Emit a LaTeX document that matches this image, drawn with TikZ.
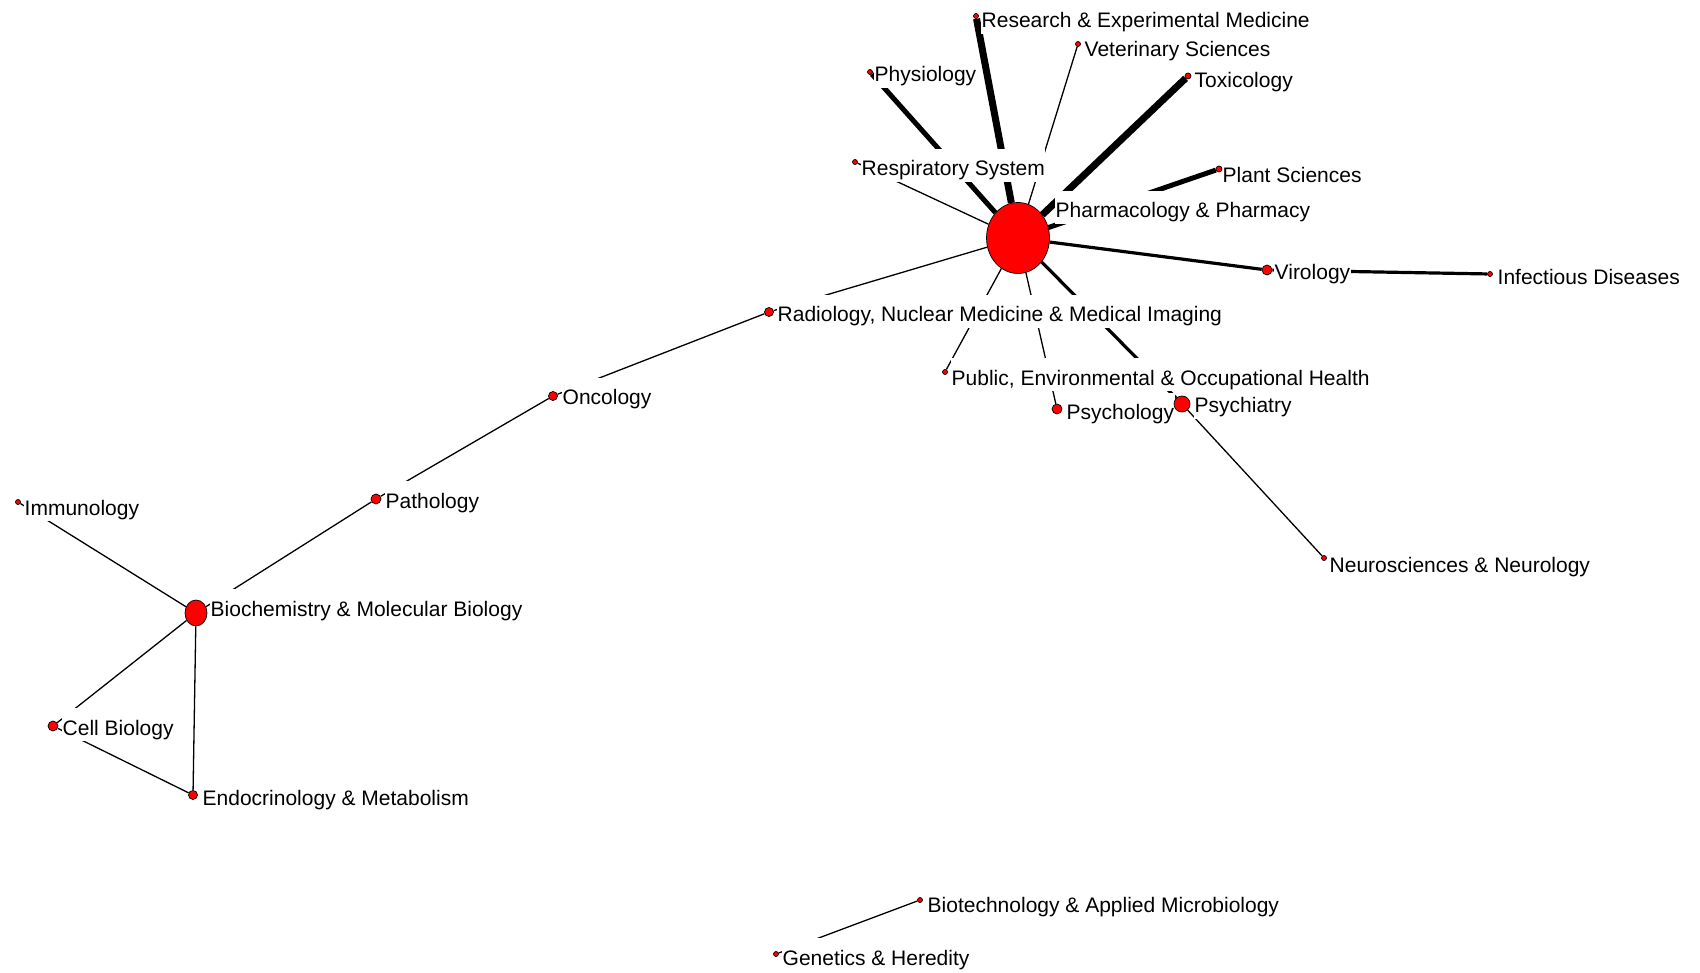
\documentclass[tikz,border=0pt]{standalone}
\usepackage{fontspec}
\setmainfont{Liberation Sans}
\usetikzlibrary{shapes.geometric}
\pgfdeclarelayer{edges}
\pgfdeclarelayer{labels}
\pgfsetlayers{edges,labels,main}
\tikzset{
  vtx/.style={draw=black, fill=red, line width=0.7pt, inner sep=0pt},
  dot/.style={vtx, circle, minimum size=5pt},
  mid/.style={vtx, circle, minimum size=10pt},
  big/.style={vtx, ellipse, minimum width=22pt, minimum height=26pt},
  hub/.style={vtx, ellipse, minimum width=63pt, minimum height=71pt},
  wire/.style={draw=black, line width=1.3pt},
  wirem/.style={draw=black, line width=3.2pt},
  wireh/.style={draw=black, line width=5pt},
  wirex/.style={draw=black, line width=7pt},
  lab/.style={fill=white, anchor=base west, inner xsep=0.5pt, inner ysep=0pt,
    text height=27pt, text depth=6pt, font=\fontsize{21}{25}\selectfont},
}
\begin{document}
\begin{tikzpicture}[x=1pt,y=-1pt]
  \useasboundingbox (0,0) rectangle (1700,973);
  % vertices
  \node[hub] (pharm) at (1018,238) {};
  \node[dot] (resmed) at (976,16) {};
  \node[dot] (vet) at (1078,44) {};
  \node[dot] (physio) at (870,72) {};
  \node[dot,minimum size=6pt] (tox) at (1188,76) {};
  \node[dot] (resp) at (855,162) {};
  \node[dot,minimum size=6pt] (plant) at (1219,169) {};
  \node[mid] (viro) at (1267,270) {};
  \node[dot] (infect) at (1490,274) {};
  \node[mid,minimum size=9pt] (radio) at (769,312) {};
  \node[dot] (public) at (945,372) {};
  \node[mid] (psychol) at (1057,409) {};
  \node[vtx,circle,minimum size=16pt] (psychia) at (1182,404) {};
  \node[dot] (neuro) at (1324,558) {};
  \node[mid,minimum size=9pt] (onco) at (553,396) {};
  \node[mid] (patho) at (376,499) {};
  \node[dot] (immuno) at (18,502) {};
  \node[big] (biochem) at (196,613) {};
  \node[mid] (cell) at (53,726) {};
  \node[mid,minimum size=9pt] (endo) at (193,795) {};
  \node[dot] (biotech) at (920,900) {};
  \node[dot] (genet) at (776,954) {};
  % labels, lowest first
  \begin{pgfonlayer}{labels}
    \node[lab] (genet-l) at (782,965) {Genetics \& Heredity};
    \node[lab] (biotech-l) at (927,912) {Biotechnology \& Applied Microbiology};
    \node[lab] (endo-l) at (202,805) {Endocrinology \& Metabolism};
    \node[lab] (cell-l) at (62,735) {Cell Biology};
    \node[lab] (biochem-l) at (210,616) {Biochemistry \& Molecular Biology};
    \node[lab] (neuro-l) at (1329,572) {Neurosciences \& Neurology};
    \node[lab] (immuno-l) at (24,515) {Immunology};
    \node[lab] (patho-l) at (385,508) {Pathology};
    \node[lab] (psychol-l) at (1066,420) {Psychology};
    \node[lab] (psychia-l) at (1194,413) {Psychiatry};
    \node[lab] (onco-l) at (562,405) {Oncology};
    \node[lab] (public-l) at (951,385) {Public, Environmental \& Occupational Health};
    \node[lab] (radio-l) at (777,322) {Radiology, Nuclear Medicine \& Medical Imaging};
    \node[lab] (infect-l) at (1497,285) {Infectious Diseases};
    \node[lab] (viro-l) at (1274,280) {Virology};
    \node[lab] (pharm-l) at (1055,218) {Pharmacology \& Pharmacy};
    \node[lab] (plant-l) at (1222,183) {Plant Sciences};
    \node[lab] (resp-l) at (861,176) {Respiratory System};
    \node[lab] (tox-l) at (1194,88) {Toxicology};
    \node[lab] (physio-l) at (874,82) {Physiology};
    \node[lab] (vet-l) at (1084,57) {Veterinary Sciences};
    \node[lab] (resmed-l) at (981,28) {Research \& Experimental Medicine};
  \end{pgfonlayer}
  % edges
  \begin{pgfonlayer}{edges}
    \draw[wirex] (pharm) -- (resmed);
    \draw[wirex] (pharm) -- (tox);
    \draw[wireh] (pharm) -- (physio);
    \draw[wireh] (pharm) -- (plant);
    \draw[wire] (pharm) -- (vet);
    \draw[wire] (pharm) -- (resp);
    \draw[wirem] (pharm) -- (viro);
    \draw[wirem] (viro) -- (infect);
    \draw[wire] (pharm) -- (radio);
    \draw[wire] (pharm) -- (public);
    \draw[wire] (pharm) -- (psychol);
    \draw[wirem] (pharm) -- (psychia);
    \draw[wire] (psychia) -- (neuro);
    \draw[wire] (radio) -- (onco);
    \draw[wire] (onco) -- (patho);
    \draw[wire] (patho) -- (biochem);
    \draw[wire] (biochem) -- (immuno);
    \draw[wire] (biochem) -- (cell);
    \draw[wire] (biochem) -- (endo);
    \draw[wire] (cell) -- (endo);
    \draw[wire] (biotech) -- (genet);
  \end{pgfonlayer}
\end{tikzpicture}
\end{document}
